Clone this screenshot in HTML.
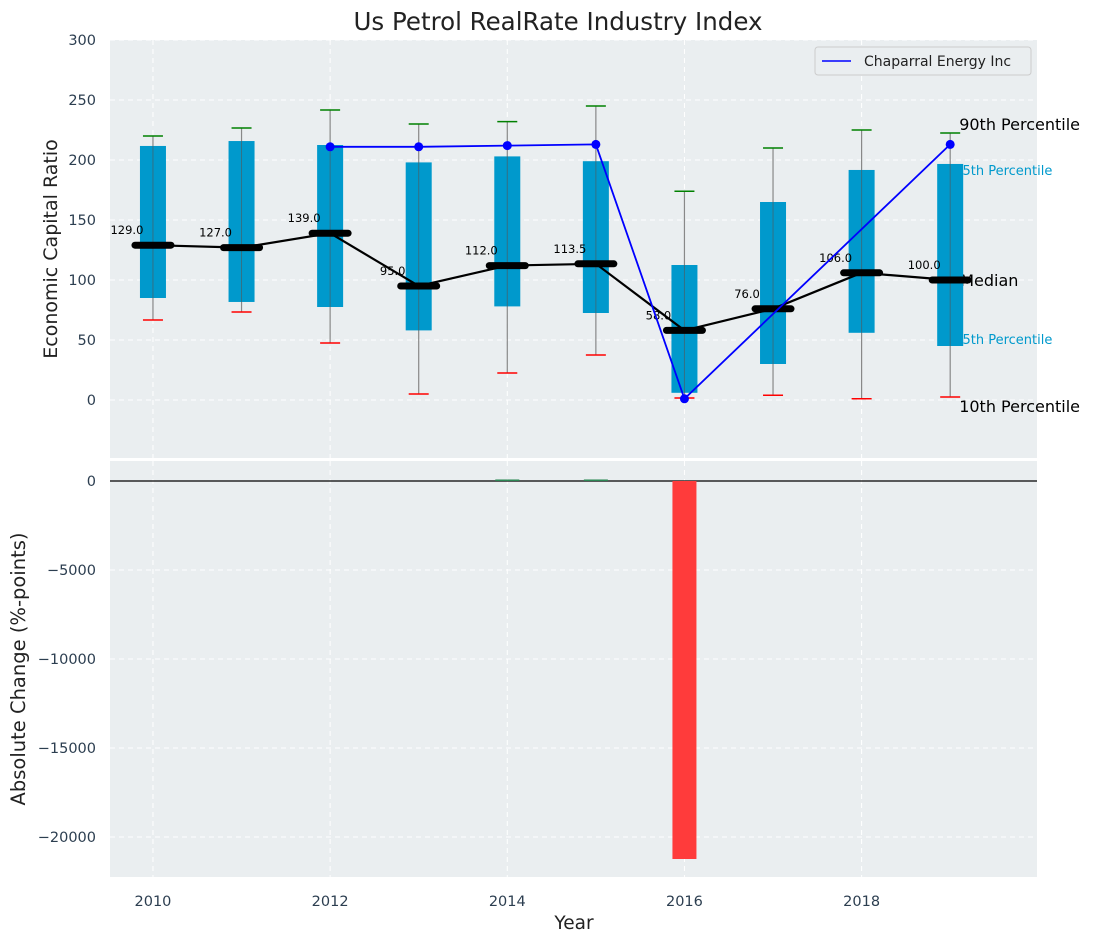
<!DOCTYPE html>
<html><head><meta charset="utf-8"><style>
body{margin:0;background:#fff;}
svg{display:block;font-family:"DejaVu Sans","Liberation Sans",sans-serif;}
</style></head><body>
<svg id="c" width="1095" height="942" xmlns="http://www.w3.org/2000/svg"></svg>
<script>
const years=[2010,2011,2012,2013,2014,2015,2016,2017,2018,2019];
const p90=[220,226.7,241.7,230,232,245,174,210,225,222.5];
const p75=[211.7,215.8,212.5,198,203,199,112.5,165,191.7,196.7];
const medians=[129,127,139,95,112,113.5,58,76,106,100];
const p25=[85,81.7,77.5,58,78,72.5,6,30,56,45];
const p10=[66.7,73.3,47.5,5,22.5,37.5,1.7,4,1,2.5];
const compYears=[2012,2013,2014,2015,2016,2019];
const compVals=[211,211,212,213,1,213];
const changes=[0,0,0,0,30,30,-21236,0,0,0];
const yTicksTop=[0,50,100,150,200,250,300];
const yTicksBot=[0,-5000,-10000,-15000,-20000];
const xTicks=[2010,2012,2014,2016,2018];

const NS="http://www.w3.org/2000/svg";
const svg=document.getElementById('c');
function el(t,a,p){const e=document.createElementNS(NS,t);for(const k in a)e.setAttribute(k,a[k]);(p||svg).appendChild(e);return e;}
function tx(s,a,p){const e=el('text',a,p);e.textContent=s;return e;}
const L=110,R=1037;
const x=v=>L+(v-2009.515)/(2019.98-2009.515)*(R-L);
const yT=v=>400-v*1.2;
const yB=v=>481-v*0.01780;

let r=el('rect',{x:L,y:40,width:R-L,height:418,fill:'#eaeef0'});

r=el('rect',{x:L,y:461,width:R-L,height:416,fill:'#eaeef0'});


const g=el('g',{stroke:'#fff','stroke-dasharray':'5,4','stroke-width':1});

yTicksTop.forEach(v=>el('line',{x1:L,x2:R,y1:yT(v),y2:yT(v)},g));
yTicksBot.forEach(v=>el('line',{x1:L,x2:R,y1:yB(v),y2:yB(v)},g));
xTicks.forEach(v=>{el('line',{x1:x(v),x2:x(v),y1:40,y2:458},g);el('line',{x1:x(v),x2:x(v),y1:461,y2:877},g);});

yTicksTop.forEach(v=>{const t=tx(String(v),{x:96,y:yT(v)+5,'text-anchor':'end','font-size':14.5,fill:'#2c3e50'});
});
yTicksBot.forEach(v=>{const t=tx(v<0?'\u2212'+(-v):String(v),{x:96,y:yB(v)+5,'text-anchor':'end','font-size':14.5,fill:'#2c3e50'});
});
xTicks.forEach(v=>{const t=tx(String(v),{x:x(v),y:906,'text-anchor':'middle','font-size':14.5,fill:'#2c3e50'});
});

const lab=[['90th Percentile',p90[9],'#000',16,9,-3],['75th Percentile',p75[9],'#0099cc',13,4,11],['Median',medians[9],'#000',16,10,6],['25th Percentile',p25[9],'#0099cc',13,4,-2],['10th Percentile',p10[9],'#000',16,9,15]];
lab.forEach(d=>{const t=tx(d[0],{x:x(2019)+d[4],y:yT(d[1])+d[5],'font-size':d[3],fill:d[2]});
});

years.forEach((yr,i)=>{
 const cx=x(yr);
 let w=el('line',{x1:cx,x2:cx,y1:yT(p90[i]),y2:yT(p10[i]),stroke:'#888','stroke-width':1.2});
 
 let b=el('rect',{x:cx-13,y:yT(p75[i]),width:26,height:yT(p25[i])-yT(p75[i]),fill:'#0099cc'});
 
 let l2=el('line',{x1:cx,x2:cx,y1:yT(p75[i]),y2:yT(p25[i]),stroke:'#555','stroke-width':1,opacity:0.6});
 
 let c1=el('line',{x1:cx-10,x2:cx+10,y1:yT(p90[i]),y2:yT(p90[i]),stroke:'green','stroke-width':1.5});
 
 let c2=el('line',{x1:cx-10,x2:cx+10,y1:yT(p10[i]),y2:yT(p10[i]),stroke:'red','stroke-width':1.5});
 
});
let ml=el('polyline',{points:years.map((yr,i)=>x(yr)+','+yT(medians[i])).join(' '),fill:'none',stroke:'#000','stroke-width':2.2});

years.forEach((yr,i)=>{
 let s=el('line',{x1:x(yr)-18,x2:x(yr)+18,y1:yT(medians[i]),y2:yT(medians[i]),stroke:'#000','stroke-width':7,'stroke-linecap':'round'});
 
 let t=tx(medians[i].toFixed(1),{x:x(yr)-26,y:yT(medians[i])-11,'text-anchor':'middle','font-size':11.5,fill:'#000'});
 
});
let cl=el('polyline',{points:compYears.map((yr,i)=>x(yr)+','+yT(compVals[i])).join(' '),fill:'none',stroke:'#0000ff','stroke-width':1.8});

compYears.forEach((yr,i)=>{let c=el('circle',{cx:x(yr),cy:yT(compVals[i]),r:4.5,fill:'#0000ff'});
 });

const lg=el('g',{});
el('rect',{x:815,y:47,width:216,height:28,rx:3,fill:'#eaeef0',stroke:'#ccc'},lg);
el('line',{x1:822,x2:851,y1:61,y2:61,stroke:'#0000ff','stroke-width':1.6},lg);
tx('Chaparral Energy Inc',{x:864,y:66,'font-size':14,fill:'#222'},lg);

let zl=el('line',{x1:L,x2:R,y1:yB(0),y2:yB(0),stroke:'#000','stroke-width':1.2});

years.forEach((yr,i)=>{const v=changes[i];if(!v)return;
 const y0=yB(0),y1=yB(v);
 let b=el('rect',{x:x(yr)-12,y:Math.min(y0,y1)-(v>0?1:0),width:24,height:Math.max(Math.abs(y1-y0),1.5),fill:v<0?'#ff3b3b':'#2e8b57'});
 });

let t=tx('Us Petrol RealRate Industry Index',{x:558,y:30,'text-anchor':'middle','font-size':24.5,fill:'#222'});

t=tx('Economic Capital Ratio',{x:0,y:0,'text-anchor':'middle','font-size':19,fill:'#222',transform:'translate(57,249) rotate(-90)'});

t=tx('Absolute Change (%-points)',{x:0,y:0,'text-anchor':'middle','font-size':19.5,fill:'#222',transform:'translate(25,669) rotate(-90)'});

t=tx('Year',{x:574,y:929,'text-anchor':'middle','font-size':18.5,fill:'#222'});

</script>
</body></html>
